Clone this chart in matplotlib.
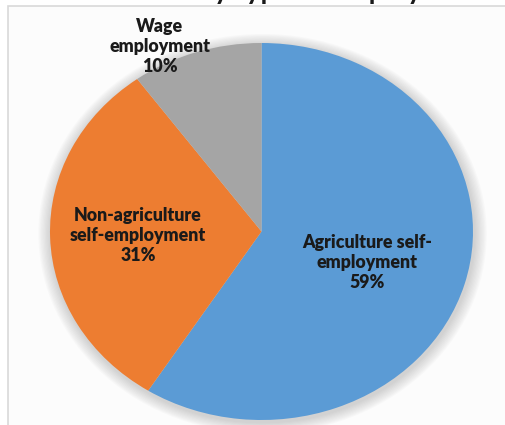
import matplotlib
matplotlib.use("Agg")
import matplotlib.pyplot as plt
from matplotlib.patches import Rectangle, Ellipse

# ---- data ----
categories = ["Agriculture self-employment", "Non-agriculture self-employment", "Wage employment"]
values = [59, 31, 10]
display_names = ["Agriculture self-\nemployment", "Non-agriculture\nself-employment", "Wage\nemployment"]
colors = ["#5B9BD5", "#ED7D31", "#A5A5A5"]
title = "Households by type of employment"

W, H = 506, 425
fig = plt.figure(figsize=(W / 100, H / 100), dpi=100)
fig.patch.set_facecolor("white")

# chart frame
frame = Rectangle((8 / W, -0.1), 1.2, 1.1 - 6 / H, transform=fig.transFigure,
                  facecolor="#FCFCFC", edgecolor="#D9D9D9", lw=1.2, zorder=-5)
fig.patches.append(frame)

# clipped title (only descenders visible)
fig.text(265 / W, 1 + 0.5 / H, title, ha="center", va="baseline",
         fontsize=20, fontweight="bold", family=["Lato", "DejaVu Sans"], color="#1A1A1A")

# pie axes: ellipse spans x 50..473, y 43..420 (pixels from top)
x0, x1, ytop, ybot = 50, 473, 43, 420
ax = fig.add_axes([x0 / W, 1 - ybot / H, (x1 - x0) / W, (ybot - ytop) / H])
ax.set_zorder(2)
ax.patch.set_alpha(0)

# soft shadow
for k in range(10):
    s = 1 + 0.006 * (k + 1)
    ax.add_patch(Ellipse((0.005, -0.012), 2 * s, 2 * s, facecolor="#808080",
                         edgecolor="none", alpha=0.035, zorder=0, clip_on=False))

wedges, _ = ax.pie(values, colors=colors, startangle=90, counterclock=False,
                   wedgeprops=dict(linewidth=0))
for w in wedges:
    w.set_zorder(2)
ax.set_aspect("auto")
ax.set_xlim(-1, 1)
ax.set_ylim(-1, 1)
ax.axis("off")

# label positions (data coords of ellipse)
label_pos = [(0.499, -0.165), (-0.584, -0.02), (-0.48, 0.98)]
for name, v, (lx, ly) in zip(display_names, values, label_pos):
    ax.text(lx, ly, f"{name}\n{v}%", ha="center", va="center", fontsize=12.8,
            fontweight="heavy", family=["Lato", "DejaVu Sans"], color="#1A1A1A",
            linespacing=1.2, zorder=5, clip_on=False)

fig.savefig("out.png", dpi=100)
